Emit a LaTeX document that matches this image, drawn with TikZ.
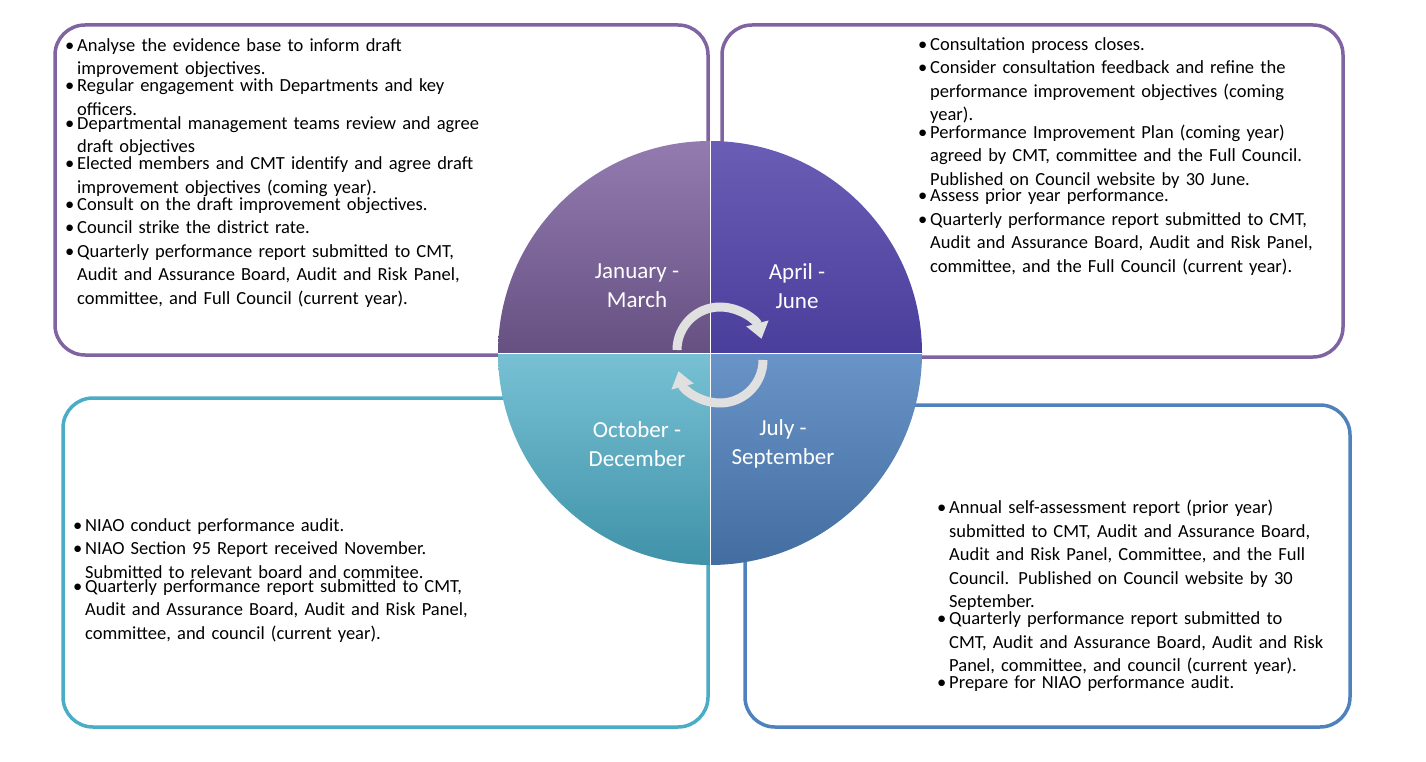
\documentclass[tikz,border=0pt]{standalone}
\usepackage{fontspec}
\setmainfont{Carlito}
\usetikzlibrary{arrows.meta}
\definecolor{pur}{HTML}{8064A2}
\definecolor{blu}{HTML}{4F81BD}
\definecolor{cya}{HTML}{4BACC6}
\definecolor{indA}{HTML}{6A5DB5}
\definecolor{indB}{HTML}{4A3E9C}
\newcommand\itm[1]{\noindent\makebox[12pt][l]{\textbullet}\parbox[t]{440pt}{\raggedright #1}\par}
\tikzset{
 box/.style={line width=3.5pt, rounded corners=30pt, fill=white},
 txt/.style={anchor=north west, align=left, text width=460pt, inner sep=0pt, font=\fontsize{18.5}{23.5}\selectfont},
 qlab/.style={text=white, align=center, font=\fontsize{23}{29}\selectfont},
 rot/.style={draw=black!12, line width=9pt}
}
\begin{document}
\begin{tikzpicture}[x=1pt,y=-1pt]
\useasboundingbox (0,0) rectangle (1426,762);
\draw[box,draw=pur] (55,25) rectangle (708,355);
\draw[box,draw=pur] (722,25) rectangle (1343,357);
\draw[box,draw=cya] (63,398) rectangle (708,727);
\draw[box,draw=blu] (745,405) rectangle (1350,727);
\coordinate (c) at (710,353);
\shade[top color=pur!85!white, bottom color=pur!80!black] (c) -- (498,353) arc[start angle=180,end angle=270,radius=212] -- cycle;
\shade[top color=indA, bottom color=indB] (c) -- (710,141) arc[start angle=270,end angle=360,radius=212] -- cycle;
\shade[top color=cya!75!white, bottom color=cya!85!black] (c) -- (710,565) arc[start angle=90,end angle=180,radius=212] -- cycle;
\shade[top color=blu!85!white, bottom color=blu!85!black] (c) -- (922,353) arc[start angle=0,end angle=90,radius=212] -- cycle;
\draw[white, line width=1pt] (498,353) -- (922,353) (710,141) -- (710,565);
\node[qlab] (q1) at (637,286) {January -\\March};
\node[qlab] (q2) at (797,286) {April -\\June};
\node[qlab] (q3) at (637,444) {October -\\December};
\node[qlab] (q4) at (783,444) {July -\\September};
\draw[rot, -{Triangle[length=16pt,width=22pt]}] (677,350) arc[start angle=180,end angle=345,radius=43];
\draw[rot, -{Triangle[length=16pt,width=22pt]}] (763,360) arc[start angle=0,end angle=165,radius=43];
\node[txt] (t1) at (65,38) {\itm{Analyse the evidence base to inform draft\\improvement objectives.}
\itm{Regular engagement with Departments and key\\officers.}
\itm{Departmental management teams review and agree\\draft objectives}
\itm{Elected members and CMT identify and agree draft\\improvement objectives (coming year).}
\itm{Consult on the draft improvement objectives.}
\itm{Council strike the district rate.}
\itm{Quarterly performance report submitted to CMT,\\Audit and Assurance Board, Audit and Risk Panel,\\committee, and Full Council (current year).}};
\node[txt] (t2) at (918,37) {\itm{Consultation process closes.}
\itm{Consider consultation feedback and refine the\\performance improvement objectives (coming\\year).}
\itm{Performance Improvement Plan (coming year)\\agreed by CMT, committee and the Full Council.\\Published on Council website by 30 June.}
\itm{Assess prior year performance.}
\itm{Quarterly performance report submitted to CMT,\\Audit and Assurance Board, Audit and Risk Panel,\\committee, and the Full Council (current year).}};
\node[txt] (t3) at (73,518) {\itm{NIAO conduct performance audit.}
\itm{NIAO Section 95 Report received November.\\Submitted to relevant board and commitee.}
\itm{Quarterly performance report submitted to CMT,\\Audit and Assurance Board, Audit and Risk Panel,\\committee, and council (current year).}};
\node[txt] (t4) at (937,500) {\itm{Annual self-assessment report (prior year)\\submitted to CMT, Audit and Assurance Board,\\Audit and Risk Panel, Committee, and the Full\\Council. Published on Council website by 30\\September.}
\itm{Quarterly performance report submitted to\\CMT, Audit and Assurance Board, Audit and Risk\\Panel, committee, and council (current year).}
\itm{Prepare for NIAO performance audit.}};
\end{tikzpicture}
\end{document}
